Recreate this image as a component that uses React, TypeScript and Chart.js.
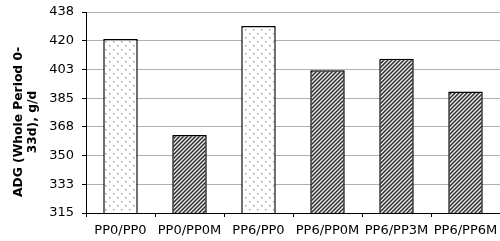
import React, { useEffect, useRef } from "react";
import { Chart, registerables } from "chart.js";

Chart.register(...registerables);

const categories = ["PP0/PP0", "PP0/PP0M", "PP6/PP0", "PP6/PP0M", "PP6/PP3M", "PP6/PP6M"];
const adgValues = [421, 362.5, 429, 402, 409, 389];
const fillKinds = ["dots", "hatch", "dots", "hatch", "hatch", "hatch"];
const titleLines = ["ADG (Whole Period 0-", "33d), g/d"];
const yMin = 315;
const yMax = 437.5;
const yStep = 17.5;

function makeDots(): CanvasPattern | string {
  const c = document.createElement("canvas");
  c.width = 8;
  c.height = 8;
  const ctx = c.getContext("2d");
  if (!ctx) return "#fff";
  ctx.fillStyle = "#ffffff";
  ctx.fillRect(0, 0, 8, 8);
  ctx.fillStyle = "#a0a0a0";
  ctx.fillRect(1, 1, 1.5, 1.5);
  ctx.fillRect(5, 5, 1.5, 1.5);
  return ctx.createPattern(c, "repeat") || "#fff";
}

function makeHatch(): CanvasPattern | string {
  const c = document.createElement("canvas");
  c.width = 4;
  c.height = 4;
  const ctx = c.getContext("2d");
  if (!ctx) return "#777";
  ctx.fillStyle = "#e8e8e8";
  ctx.fillRect(0, 0, 4, 4);
  ctx.strokeStyle = "#2a2a2a";
  ctx.lineWidth = 1.4;
  ctx.beginPath();
  ctx.moveTo(-1, 5);
  ctx.lineTo(5, -1);
  ctx.moveTo(-3, 3);
  ctx.lineTo(3, -3);
  ctx.moveTo(1, 7);
  ctx.lineTo(7, 1);
  ctx.stroke();
  return ctx.createPattern(c, "repeat") || "#777";
}

const titlePlugin = {
  id: "yTitle",
  afterDraw(chart: any) {
    const ctx = chart.ctx;
    const cy = 122;
    const xs = [19, 33];
    ctx.save();
    ctx.font = "bold 12.3px 'DejaVu Sans', Verdana, sans-serif";
    ctx.fillStyle = "#000";
    ctx.textAlign = "center";
    ctx.textBaseline = "middle";
    titleLines.forEach((line, i) => {
      ctx.save();
      ctx.translate(xs[i], cy);
      ctx.rotate(-Math.PI / 2);
      ctx.fillText(line, 0, 0);
      ctx.restore();
    });
    ctx.restore();
  },
};

export default function App() {
  const ref = useRef<HTMLCanvasElement | null>(null);

  useEffect(() => {
    document.body.style.margin = "0";
    if (!ref.current) return;
    const dots = makeDots();
    const hatch = makeHatch();
    const bg = fillKinds.map((k) => (k === "dots" ? dots : hatch));
    const font = { family: "'DejaVu Sans', Verdana, sans-serif", size: 13 };
    const chart = new Chart(ref.current, {
      type: "bar",
      data: {
        labels: categories,
        datasets: [
          {
            data: adgValues,
            backgroundColor: bg as any,
            borderColor: "#000",
            borderWidth: 1.5,
            barPercentage: 0.5,
            categoryPercentage: 1,
          },
        ],
      },
      options: {
        responsive: false,
        animation: false,
        layout: { padding: { top: 12, right: 0, left: 0, bottom: 0 } },
        plugins: { legend: { display: false }, tooltip: { enabled: false } },
        scales: {
          x: {
            offset: true,
            grid: {
              offset: true,
              drawOnChartArea: false,
              drawTicks: true,
              tickLength: 4,
              tickColor: "#000",
            },
            border: { color: "#000", width: 1 },
            ticks: { font, color: "#000", padding: 6, maxRotation: 0, autoSkip: false },
            afterFit: (s: any) => {
              s.height = 28;
              s.paddingLeft = 0;
              s.paddingRight = 0;
            },
          },
          y: {
            min: yMin,
            max: yMax,
            grid: { color: "#b0b0b0", tickLength: 4, tickColor: "#000", lineWidth: 1 },
            border: { color: "#000", width: 1 },
            ticks: {
              stepSize: yStep,
              font,
              color: "#000",
              padding: 8,
              callback: (v: any) => String(Math.round(Number(v))),
            },
            afterFit: (s: any) => {
              s.width = 86;
              s.paddingTop = 0;
              s.paddingBottom = 0;
            },
          },
        },
      },
      plugins: [titlePlugin],
    });
    return () => chart.destroy();
  }, []);

  return <canvas ref={ref} width={500} height={241} style={{ display: "block" }} />;
}
